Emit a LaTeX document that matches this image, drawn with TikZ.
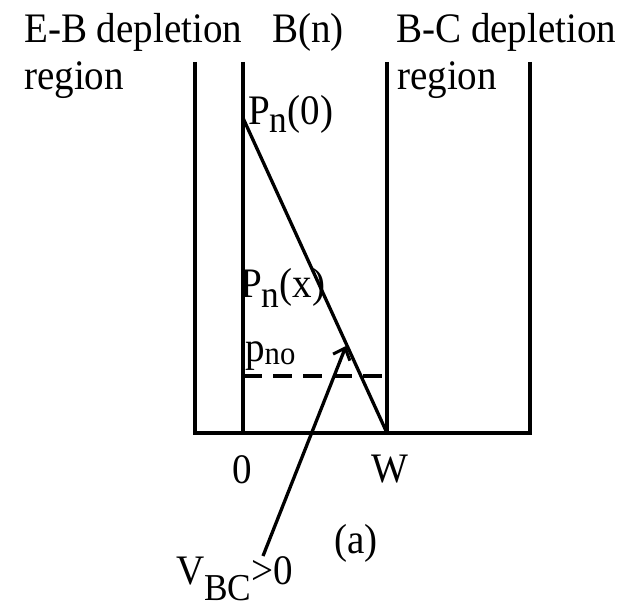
\documentclass[tikz,border=0pt]{standalone}
\usepackage{fontspec}
\setmainfont[FakeStretch=0.93]{Liberation Serif}
\usetikzlibrary{arrows.meta}
\newcommand{\mysub}[2]{\raisebox{-#1}{\fontsize{38}{38}\selectfont #2}}
\begin{document}
\begin{tikzpicture}[x=1pt,y=-1pt,
  lbl/.style={inner sep=0pt,anchor=base west,font=\fontsize{42}{42}\selectfont},
  wall/.style={line width=3.3pt},
  line/.style={line width=3.3pt}]
\useasboundingbox (0,0) rectangle (637,609);
% coordinates
\coordinate (a1) at (195,62); \coordinate (a2) at (195,433);
\coordinate (b1) at (243,62); \coordinate (b2) at (243,433);
\coordinate (c1) at (387,62); \coordinate (c2) at (387,433);
\coordinate (d1) at (530,62); \coordinate (d2) at (530,433);
\coordinate (p0) at (243,118);
\coordinate (dl) at (243,376); \coordinate (dr) at (387,376);
\coordinate (arS) at (263,556); \coordinate (arE) at (346,346);
\draw[wall] (a1) -- (a2);
\draw[wall] (b1) -- (b2);
\draw[wall] (c1) -- (c2);
\draw[wall] (d1) -- (d2);
\draw[wall,line cap=rect] (a2) -- (d2);
\draw[line] (p0) -- (c2);
\draw[line,dash pattern=on 19pt off 11pt] (dl) -- (dr);
\draw[line,-{Straight Barb[length=10pt,width=18pt,line width=3pt]}] (arS) -- (arE);
% labels
\node[lbl] (t1) at (24,43) {E-B depletion};
\node[lbl] (t2) at (272,43) {B(n)};
\node[lbl] (t3) at (396,43) {B-C depletion};
\node[lbl] (t4) at (24,90) {region};
\node[lbl] (t5) at (397,90) {region};
\node[lbl] (t6) at (248,125) {P\mysub{8pt}{n}(0)};
\node[lbl] (t7) at (240,298) {P\mysub{10pt}{n}(x)};
\node[lbl] (t8) at (245,362) {p\raisebox{-3pt}{\fontsize{33}{33}\selectfont no}};
\node[lbl] (t9) at (232,483) {0};
\node[lbl] (t10) at (371,482) {W};
\node[lbl] (t11) at (334,553) {(a)};
\node[lbl] (t12) at (176,584) {V\mysub{16pt}{BC}>0};
\end{tikzpicture}
\end{document}
